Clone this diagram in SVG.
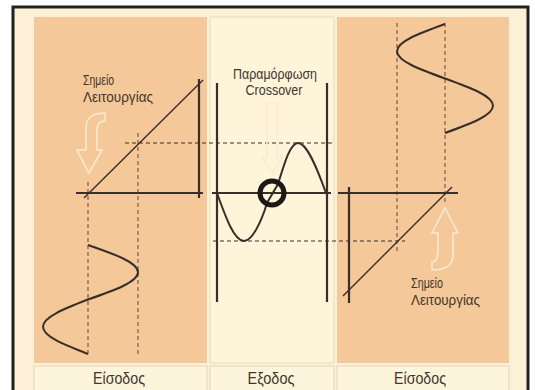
<svg xmlns="http://www.w3.org/2000/svg" width="535" height="390" viewBox="0 0 535 390">
<style>
.txt{font-family:"Liberation Sans Narrow","Liberation Sans",Arial,sans-serif;fill:#45362c}
.lbl{font-family:"Liberation Sans Narrow","Liberation Sans",Arial,sans-serif;fill:#45362c;font-size:17px;text-anchor:middle}
.ax{stroke:#3a2e28;stroke-width:2.2;fill:none}
.thin{stroke:#3a2e28;stroke-width:1.4;fill:none}
.wave{stroke:#3a2e28;stroke-width:2;fill:none}
.dh{stroke:#3a2e28;stroke-width:1.2;stroke-dasharray:4 3;fill:none}
.dv{stroke:#7a5040;stroke-width:1.1;stroke-dasharray:4 3;fill:none}
.harrow{fill:none;stroke:#fbead0;stroke-width:1.6}
</style>
<rect width="535" height="390" fill="#ffffff"/>
<rect x="13" y="7" width="515" height="390" fill="#fcf1d6" stroke="#222" stroke-width="3"/>
<g id="panel-left">
<rect x="34" y="17" width="173" height="346" fill="#f4c898"/>
</g>
<g id="panel-middle">
<rect x="210" y="17" width="124" height="346" fill="#fdf4da" stroke="#e6dac0" stroke-width="1"/>
</g>
<g id="panel-right">
<rect x="337" y="17" width="172" height="346" fill="#f4c898"/>
</g>
<g id="labels">
<rect x="34" y="366" width="173" height="26" fill="#fdf4dc" stroke="#e3d6bb"/>
<rect x="210" y="366" width="124" height="26" fill="#fdf4dc" stroke="#e3d6bb"/>
<rect x="337" y="366" width="172" height="26" fill="#fdf4dc" stroke="#e3d6bb"/>
<text class="lbl" x="119" y="384" textLength="52" lengthAdjust="spacingAndGlyphs">Είσοδος</text>
<text class="lbl" x="271" y="384" textLength="47" lengthAdjust="spacingAndGlyphs">Εξοδος</text>
<text class="lbl" x="420" y="384" textLength="52" lengthAdjust="spacingAndGlyphs">Είσοδος</text>
</g>
<g id="connectors">
<line class="dh" x1="125" y1="143" x2="335" y2="143"/>
<line class="dh" x1="213" y1="241" x2="405" y2="241"/>
</g>
<g id="left-graph">
<line class="dv" x1="88" y1="182" x2="88" y2="355"/>
<line class="dv" x1="138" y1="133" x2="138" y2="355"/>
<line class="ax" x1="76" y1="193" x2="203" y2="193"/>
<line class="ax" x1="199" y1="79" x2="199" y2="198"/>
<line class="thin" x1="84" y1="198" x2="203" y2="80"/>
<path class="wave" d="M88,245 C113.6,253.9 138,262.4 138,272.25 C138,282.1 113.6,290.6 88,299.5 C65,308.4 43,316.9 43,326.75 C43,336.6 65,345.1 88,354"/>
<path class="harrow" d="M105,113 Q86,113 86,128 L86,150 L77,150 L89,173 L102,150 L97,150 L97,130 Q97,121 105,121 Z"/>
<text class="txt" x="83" y="85" font-size="15" textLength="31" lengthAdjust="spacingAndGlyphs">Σημείο</text>
<text class="txt" x="83" y="102" font-size="15" textLength="70" lengthAdjust="spacingAndGlyphs">Λειτουργίας</text>
</g>
<g id="middle-graph">
<line class="ax" x1="217" y1="83" x2="217" y2="302" stroke-width="2.6"/>
<line class="ax" x1="327" y1="83" x2="327" y2="302" stroke-width="2.6"/>
<line class="ax" x1="212" y1="193" x2="331" y2="193" stroke-width="3.5"/>
<path class="wave" d="M217,193 C225.8,217.6 234.2,241 244,241 C252.5,241 262,220 267,203 L278,184 C284,165 290,143 298,143 C307,143 317,168 326,193"/>
<circle cx="272" cy="193" r="12" fill="none" stroke="#1e1714" stroke-width="5"/>
<path class="harrow" d="M267,103 L277,103 L277,157 L283,157 L272,173 L262,157 L267,157 Z"/>
<text class="txt" x="275" y="79" font-size="14" text-anchor="middle" textLength="84" lengthAdjust="spacingAndGlyphs">Παραμόρφωση</text>
<text class="txt" x="274" y="95" font-size="14" text-anchor="middle" textLength="57" lengthAdjust="spacingAndGlyphs">Crossover</text>
</g>
<g id="right-graph">
<line class="dv" x1="397" y1="23" x2="397" y2="252"/>
<line class="dv" x1="445" y1="23" x2="445" y2="205"/>
<line class="ax" x1="338" y1="193" x2="458" y2="193"/>
<line class="ax" x1="349" y1="187" x2="349" y2="303"/>
<line class="thin" x1="343" y1="296" x2="452" y2="187"/>
<path class="wave" d="M445,24 C420.4,32.9 397,41.4 397,51.25 C397,61.1 420.4,69.6 445,78.5 C469.6,87.4 493,95.9 493,105.75 C493,115.6 469.6,124.1 445,133"/>
<path class="harrow" d="M445,208 L458,233 L453,233 L453,255 Q453,270 432,270 L432,262 Q438,262 438,250 L438,233 L432,233 Z"/>
<text class="txt" x="411" y="288" font-size="15" textLength="32" lengthAdjust="spacingAndGlyphs">Σημείο</text>
<text class="txt" x="411" y="305" font-size="15" textLength="69" lengthAdjust="spacingAndGlyphs">Λειτουργίας</text>
</g>
</svg>
